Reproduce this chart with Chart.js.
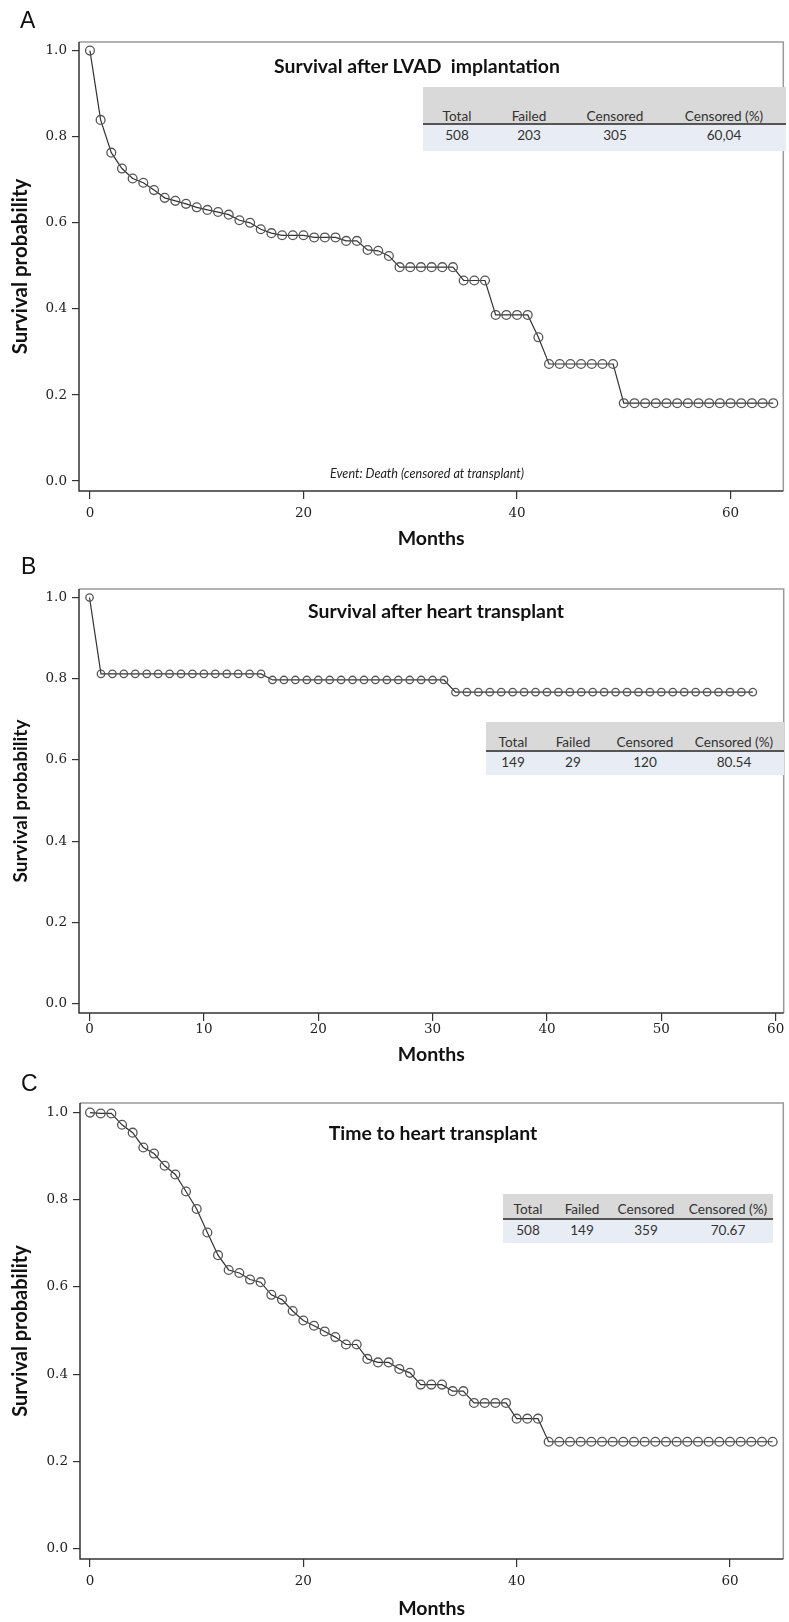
<!DOCTYPE html>
<html>
<head>
<meta charset="utf-8">
<script src="https://cdn.jsdelivr.net/npm/chart.js@4.4.1/dist/chart.umd.min.js"></script>
<style>
  body { margin: 0; background: #fff; }
  #page { position: relative; width: 789px; height: 1622px; overflow: hidden; font-family: Lato, "Open Sans", sans-serif; }
  canvas { position: absolute; left: 0; }
  .lbl { position: absolute; font-family: "Liberation Sans", Arial, sans-serif; font-size: 23px; color: #111; line-height: 1; }
  .ttl { position: absolute; transform: translate(-50%, -50%); font-weight: bold; font-size: 19.4px; color: #111; white-space: pre; }
  .note { position: absolute; transform: translate(-50%, -50%); font-style: italic; font-size: 12.6px; color: #222; white-space: pre; }
  .bg { position: absolute; }
  .cell { position: absolute; transform: translate(-50%, -50%); font-size: 13.6px; color: #333; white-space: pre; }
</style>
</head>
<body>
<div id="page">
  <canvas id="chartA" width="789" height="552" style="top:0px"></canvas>
  <canvas id="chartB" width="789" height="508" style="top:560px"></canvas>
  <canvas id="chartC" width="789" height="547" style="top:1075px"></canvas>
</div>
<script>
// months (x) and survival probability (y) per panel
const monthsA = [0,1,2,3,4,5,6,7,8,9,10,11,12,13,14,15,16,17,18,19,20,21,22,23,24,25,26,27,28,29,30,31,32,
  33,34,35,36,37,38,39,40,41,42,43,44,45,46,47,48,49,50,51,52,53,54,55,56,57,58,59,60,61,62,63,64];
const survA = [1.000,0.839,0.763,0.726,0.703,0.693,0.676,0.658,0.651,0.644,0.636,0.630,0.625,0.619,0.606,
  0.600,0.585,0.576,0.571,0.571,0.571,0.566,0.566,0.566,0.558,0.558,0.537,0.535,0.523,0.497,0.497,0.497,
  0.497,0.497,0.497,0.466,0.466,0.466,0.386,0.386,0.386,0.386,0.334,0.272,0.272,0.272,0.272,0.272,0.272,
  0.272,0.181,0.181,0.181,0.181,0.181,0.181,0.181,0.181,0.181,0.181,0.181,0.181,0.181,0.181,0.181];

const monthsB = [0,1,2,3,4,5,6,7,8,9,10,11,12,13,14,15,16,17,18,19,20,21,22,23,24,25,26,27,28,29,30,31,32,
  33,34,35,36,37,38,39,40,41,42,43,44,45,46,47,48,49,50,51,52,53,54,55,56,57,58];
const survB = [1.000,0.812,0.812,0.812,0.812,0.812,0.812,0.812,0.812,0.812,0.812,0.812,0.812,0.812,0.812,
  0.812,0.797,0.797,0.797,0.797,0.797,0.797,0.797,0.797,0.797,0.797,0.797,0.797,0.797,0.797,0.797,0.797,
  0.767,0.767,0.767,0.767,0.767,0.767,0.767,0.767,0.767,0.767,0.767,0.767,0.767,0.767,0.767,0.767,0.767,
  0.767,0.767,0.767,0.767,0.767,0.767,0.767,0.767,0.767,0.767];

const monthsC = [0,1,2,3,4,5,6,7,8,9,10,11,12,13,14,15,16,17,18,19,20,21,22,23,24,25,26,27,28,29,30,31,32,
  33,34,35,36,37,38,39,40,41,42,43,44,45,46,47,48,49,50,51,52,53,54,55,56,57,58,59,60,61,62,63,64];
const survC = [1.000,0.998,0.998,0.972,0.954,0.920,0.906,0.878,0.858,0.819,0.779,0.725,0.673,0.639,0.632,
  0.617,0.611,0.582,0.571,0.545,0.523,0.511,0.498,0.485,0.468,0.468,0.435,0.427,0.427,0.412,0.403,0.376,
  0.376,0.376,0.361,0.361,0.334,0.334,0.334,0.334,0.298,0.298,0.298,0.245,0.245,0.245,0.245,0.245,0.245,
  0.245,0.245,0.245,0.245,0.245,0.245,0.245,0.245,0.245,0.245,0.245,0.245,0.245,0.245,0.245,0.245];

const yTicks = [0, 0.2, 0.4, 0.6, 0.8, 1.0];
const xTicksA = [0, 20, 40, 60];
const xTicksB = [0, 10, 20, 30, 40, 50, 60];
const xTicksC = [0, 20, 40, 60];

const titleA = 'Survival after LVAD  implantation';
const titleB = 'Survival after heart transplant';
const titleC = 'Time to heart transplant';
const noteA = 'Event: Death (censored at transplant)';

const tableHead = ['Total', 'Failed', 'Censored', 'Censored (%)'];
const tableA = ['508', '203', '305', '60,04'];
const tableB = ['149', '29', '120', '80.54'];
const tableC = ['508', '149', '359', '70.67'];

const boxPlugin = {
  id: 'box',
  beforeDatasetsDraw(chart) {
    const { ctx, chartArea: a } = chart;
    ctx.save();
    ctx.lineWidth = 1.5;
    ctx.strokeStyle = '#9a9a9a';
    ctx.beginPath();
    ctx.moveTo(a.left, a.top); ctx.lineTo(a.right, a.top); ctx.lineTo(a.right, a.bottom);
    ctx.stroke();
    ctx.strokeStyle = '#333';
    ctx.beginPath();
    ctx.moveTo(a.left, a.top); ctx.lineTo(a.left, a.bottom); ctx.lineTo(a.right, a.bottom);
    ctx.stroke();
    ctx.restore();
  }
};

function makePanel(id, months, surv, cfg) {
  const ctx = document.getElementById(id).getContext('2d');
  return new Chart(ctx, {
    type: 'line',
    data: {
      datasets: [{
        data: months.map((m, i) => ({ x: m, y: surv[i] })),
        borderColor: '#333',
        borderWidth: 1.2,
        pointRadius: cfg.r,
        pointBorderColor: '#555',
        pointBackgroundColor: 'rgba(0,0,0,0)',
        pointBorderWidth: 1.3,
        tension: 0,
        clip: false,
      }],
    },
    options: {
      responsive: false,
      animation: false,
      events: [],
      layout: { padding: { top: cfg.padTop, right: cfg.padRight, left: 0, bottom: 0 } },
      plugins: { legend: { display: false }, tooltip: { enabled: false } },
      scales: {
        x: {
          type: 'linear',
          min: cfg.xMin,
          max: cfg.xMax,
          afterFit: (s) => { s.height = cfg.xHeight; },
          afterBuildTicks: (s) => { s.ticks = cfg.xTicks.map((v) => ({ value: v })); },
          grid: { display: true, drawOnChartArea: false, drawTicks: true, tickLength: 8, color: '#333', lineWidth: 1.2 },
          border: { display: false },
          ticks: {
            font: { family: 'DejaVu Serif', size: 13.5 },
            color: '#222',
            padding: cfg.xPad,
            maxRotation: 0,
            autoSkip: false,
            callback: (v) => String(v),
          },
          title: {
            display: true,
            text: 'Months',
            font: { family: 'Lato', weight: 'bold', size: 19.5 },
            color: '#111',
            padding: 2,
          },
        },
        y: {
          min: cfg.yMin,
          max: cfg.yMax,
          afterFit: (s) => { s.width = cfg.yWidth; },
          afterBuildTicks: (s) => { s.ticks = yTicks.map((v) => ({ value: v })); },
          grid: { display: true, drawOnChartArea: false, drawTicks: true, tickLength: 7, color: '#333', lineWidth: 1.2 },
          border: { display: false },
          ticks: {
            font: { family: 'DejaVu Serif', size: 13.5 },
            color: '#222',
            padding: 5,
            callback: (v) => v.toFixed(1),
          },
          title: {
            display: true,
            text: 'Survival probability',
            font: { family: 'Lato', weight: 'bold', size: cfg.yTitleSize },
            color: '#111',
            padding: cfg.yTitlePad,
          },
        },
      },
    },
    plugins: [boxPlugin],
  });
}

makePanel('chartA', monthsA, survA, {
  r: 4.4, padTop: 42, padRight: 2, xHeight: 61, yWidth: 79, xPad: 6,
  xMin: -1.025, xMax: 64.94, yMin: -0.023, yMax: 1.020, xTicks: xTicksA,
  yTitleSize: 20.5, yTitlePad: 8,
});
makePanel('chartB', monthsB, survB, {
  r: 3.7, padTop: 29, padRight: 3, xHeight: 55, yWidth: 79, xPad: 0,
  xMin: -0.92, xMax: 60.7, yMin: -0.023, yMax: 1.021, xTicks: xTicksB,
  yTitleSize: 19, yTitlePad: 9,
});
makePanel('chartC', monthsC, survC, {
  r: 4.4, padTop: 28, padRight: 2, xHeight: 63, yWidth: 80, xPad: 6,
  xMin: -0.94, xMax: 65.0, yMin: -0.024, yMax: 1.022, xTicks: xTicksC,
  yTitleSize: 20, yTitlePad: 8.5,
});

// overlays: panel letters, titles, note and the summary tables
const page = document.getElementById('page');
function add(cls, text, x, y, extra) {
  const d = document.createElement('div');
  d.className = cls;
  d.textContent = text;
  d.style.left = x + 'px';
  d.style.top = y + 'px';
  if (extra) Object.assign(d.style, extra);
  page.appendChild(d);
  return d;
}
function box(x, y, w, h, color) {
  add('bg', '', x, y, { width: w + 'px', height: h + 'px', background: color });
}
function table(t, values) {
  box(t.left, t.top, t.width, t.line - t.top, '#d9d9d9');
  box(t.left, t.line + 1.5, t.width, t.bottom - t.line - 1.5, '#e8ecf4');
  box(t.left, t.line, t.width, 1.5, '#555');
  tableHead.forEach((h, i) => add('cell', h, t.cols[i], t.headY));
  values.forEach((v, i) => add('cell', v, t.cols[i], t.rowY));
}

add('lbl', 'A', 20, 9);
add('lbl', 'B', 21, 555);
add('lbl', 'C', 21, 1072);

add('ttl', titleA, 417, 65);
add('ttl', titleB, 436, 610);
add('ttl', titleC, 433, 1132);
add('note', noteA, 427, 473);

table({ left: 423, top: 87, width: 363, line: 123, bottom: 151, headY: 116, rowY: 135, cols: [457, 529, 615, 724] }, tableA);
table({ left: 486, top: 722, width: 298, line: 750, bottom: 775, headY: 742, rowY: 762, cols: [513, 573, 645, 734] }, tableB);
table({ left: 503, top: 1194, width: 270, line: 1218, bottom: 1243, headY: 1209, rowY: 1230, cols: [528, 582, 646, 728] }, tableC);
</script>
</body>
</html>
